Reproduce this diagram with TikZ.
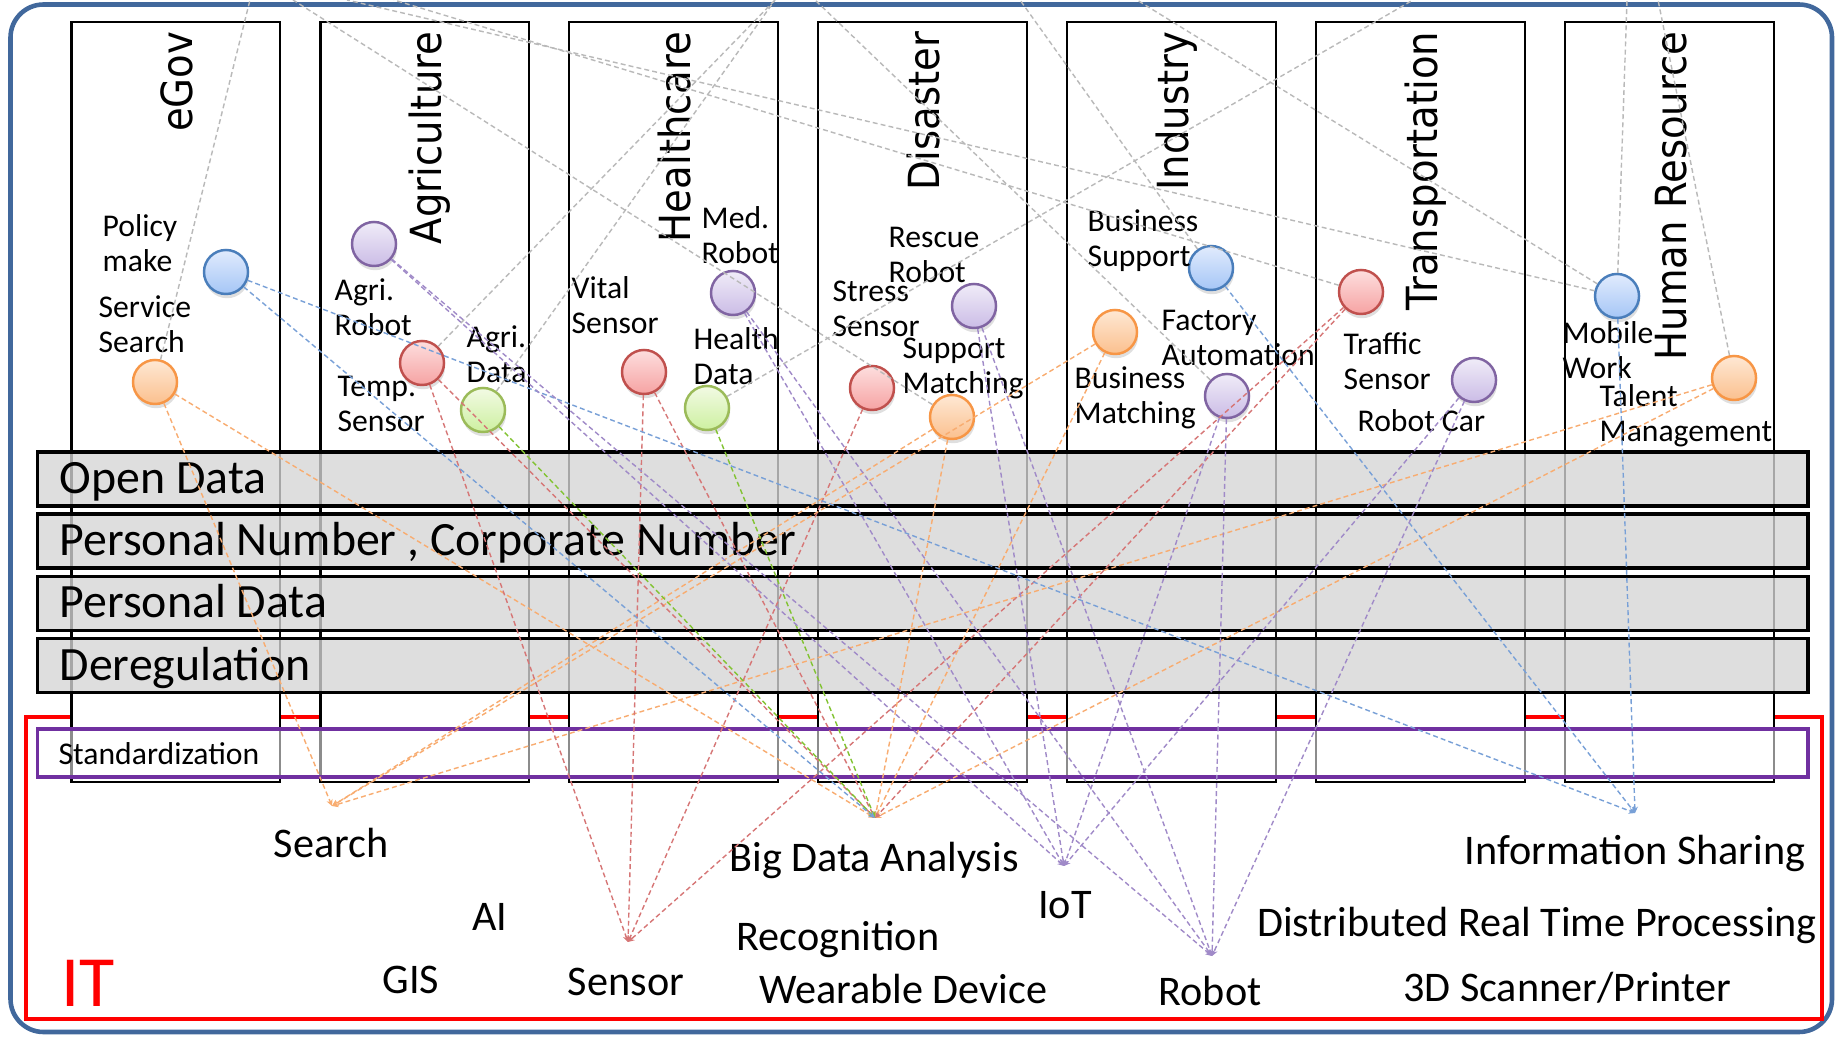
\documentclass[tikz,border=0pt]{standalone}
\usepackage{fontspec}
\setmainfont{Carlito}
\newfontfamily\titlefont[FakeStretch=0.9]{DejaVu Sans}
\usetikzlibrary{arrows.meta, shadows}
\definecolor{frameBlue}{RGB}{65,104,156}
\definecolor{barGray}{RGB}{213,213,213}
\definecolor{stdPurple}{RGB}{112,48,160}
\definecolor{lnGray}{RGB}{185,185,185}
\definecolor{lnOrange}{RGB}{248,172,112}
\definecolor{lnBlue}{RGB}{120,160,215}
\definecolor{lnRed}{RGB}{214,118,118}
\definecolor{lnGreen}{RGB}{130,195,50}
\definecolor{lnPurple}{RGB}{160,138,200}
\definecolor{blueEdge}{RGB}{74,126,187}
\definecolor{blueTop}{RGB}{225,235,253}
\definecolor{blueBot}{RGB}{165,198,246}
\definecolor{orangeEdge}{RGB}{247,150,70}
\definecolor{orangeTop}{RGB}{254,232,212}
\definecolor{orangeBot}{RGB}{251,192,142}
\definecolor{redEdge}{RGB}{192,80,77}
\definecolor{redTop}{RGB}{253,222,222}
\definecolor{redBot}{RGB}{246,163,163}
\definecolor{greenEdge}{RGB}{155,187,89}
\definecolor{greenTop}{RGB}{242,250,228}
\definecolor{greenBot}{RGB}{205,240,160}
\definecolor{purpleEdge}{RGB}{128,100,162}
\definecolor{purpleTop}{RGB}{240,236,248}
\definecolor{purpleBot}{RGB}{203,188,230}

\begin{document}
\begin{tikzpicture}[x=0.01cm, y=-0.01cm, >={Stealth[length=1.8pt, width=1.8pt]},
    dot/.style={circle, minimum size=0.44cm, inner sep=0pt, line width=0.7pt,
      drop shadow={shadow xshift=0.3pt, shadow yshift=-1.2pt, opacity=0.25}},
    dotBlue/.style={dot, draw=blueEdge, top color=blueTop, bottom color=blueBot},
    dotOrange/.style={dot, draw=orangeEdge, top color=orangeTop, bottom color=orangeBot},
    dotRed/.style={dot, draw=redEdge, top color=redTop, bottom color=redBot},
    dotGreen/.style={dot, draw=greenEdge, top color=greenTop, bottom color=greenBot},
    dotPurple/.style={dot, draw=purpleEdge, top color=purpleTop, bottom color=purpleBot},
    lbl/.style={font=\fontsize{9}{10}\selectfont, align=left, inner sep=0pt, anchor=base west},
    tech/.style={font=\fontsize{12}{14}\selectfont, inner sep=0pt, anchor=base},
    barlbl/.style={font=\fontsize{13.6}{16}\selectfont, inner sep=0pt, anchor=base west},
    field/.style={font=\titlefont\fontsize{12.2}{14}\selectfont, rotate=90, inner sep=0pt, anchor=base east},
    link/.style={line width=0.4pt, dash pattern=on 1.4pt off 0.9pt},
  ]
    \useasboundingbox (0,0) rectangle (1837,1037);

    % outer frame and IT area
    \draw[frameBlue, line width=1.3pt, rounded corners=0.33cm] (10.5,4.5) rectangle (1832,1032);
    \draw[red, line width=1.2pt] (26,717) rectangle (1822,1019);

    % fields
    \foreach \fname [count=\i from 0] in {eGov, Agriculture, Healthcare, Disaster, Industry, Transportation, Human Resource} {
        \draw[fill=white, line width=0.6pt] ({71.5+248.95*\i}, 22) rectangle ++(208.5, 760);
        \node[field] (field\i) at ({192.5+248.95*\i}, 31) {\fname};
    }

    % layers
    \foreach \bname [count=\j from 0] in {Open Data, {Personal Number , Corporate Number}, Personal Data, Deregulation} {
        \draw[line width=1pt, fill=barGray, fill opacity=0.78] (37.5, {452+62.2*\j}) rectangle ++(1770.5, 54);
        \node[barlbl] (bar\j) at (59, {493.5+62.2*\j}) {\bname};
    }
    \draw[stdPurple, line width=0.9pt, fill=white, fill opacity=0.55] (37.5,729) rectangle (1808,777);
    \node[font=\fontsize{9}{11}\selectfont, inner sep=0pt, anchor=base west] (std) at (58,764) {Standardization};
    \node[red, font=\fontsize{20.5}{24}\selectfont, inner sep=0pt, anchor=base west] (itlbl) at (61,1006) {IT};

    % services
    \node[dotBlue] (policy) at (226,272) {};
    \node[dotOrange] (servsearch) at (155,382) {};
    \node[dotPurple] (agrirobot) at (374,244) {};
    \node[dotRed] (tempsensor) at (422,363) {};
    \node[dotGreen] (agridata) at (483,410) {};
    \node[dotRed] (vitalsensor) at (644,372) {};
    \node[dotPurple] (medrobot) at (733,293) {};
    \node[dotGreen] (healthdata) at (707,408) {};
    \node[dotRed] (stresssensor) at (872,388) {};
    \node[dotPurple] (rescuerobot) at (974,306) {};
    \node[dotOrange] (supmatch) at (952,417) {};
    \node[dotBlue] (bussupport) at (1211,268) {};
    \node[dotOrange] (busmatch) at (1115,332) {};
    \node[dotPurple] (factory) at (1227,396) {};
    \node[dotRed] (trafficsensor) at (1361,292) {};
    \node[dotPurple] (robotcar) at (1474,380) {};
    \node[dotBlue] (mobilework) at (1617,296) {};
    \node[dotOrange] (talent) at (1734,378) {};

    % labels sit on the baseline of their last line
    \node[lbl] (lPolicy) at (102,272) {Policy\\make};
    \node[lbl] (lServ) at (98,353) {Service\\Search};
    \node[lbl] (lAgriRobot) at (334,336) {Agri.\\Robot};
    \node[lbl] (lTemp) at (337,432) {Temp.\\Sensor};
    \node[lbl] (lAgriData) at (466,383) {Agri.\\Data};
    \node[lbl] (lVital) at (571,334) {Vital\\Sensor};
    \node[lbl] (lMed) at (701,264) {Med.\\Robot};
    \node[lbl] (lHealth) at (693,385) {Health\\Data};
    \node[lbl] (lStress) at (832,337) {Stress\\Sensor};
    \node[lbl] (lRescue) at (888,283) {Rescue\\Robot};
    \node[lbl] (lSupMatch) at (902,394) {Support\\Matching};
    \node[lbl] (lBusSup) at (1087,267) {Business\\Support};
    \node[lbl] (lFactory) at (1161,366) {Factory\\Automation};
    \node[lbl] (lBusMatch) at (1074,424) {Business\\Matching};
    \node[lbl] (lTraffic) at (1343,390) {Traffic\\Sensor};
    \node[lbl] (lRobotCar) at (1357,432) {Robot Car};
    \node[lbl] (lMobile) at (1562,379) {Mobile\\Work};
    \node[lbl] (lTalent) at (1599,442) {Talent\\Management};

    % technologies
    \node[tech] (tSearch) at (331,857) {Search};
    \node[tech] (tAI) at (490,930) {AI};
    \node[tech] (tGIS) at (411,993) {GIS};
    \node[tech] (tSensor) at (626,995) {Sensor};
    \node[tech] (tBig) at (874,871) {Big Data Analysis};
    \node[tech] (tIoT) at (1065,918) {IoT};
    \node[tech] (tRecog) at (838,950) {Recognition};
    \node[tech] (tWear) at (903,1003) {Wearable Device};
    \node[tech] (tRobot) at (1210,1005) {Robot};
    \node[tech] (tShare) at (1635,864) {Information Sharing};
    \node[tech] (tDist) at (1537,936) {Distributed Real Time Processing};
    \node[tech] (t3D) at (1567,1001) {3D Scanner/Printer};

    \coordinate (hSearch) at (332,806);
    \coordinate (hBig) at (875,818);
    \coordinate (hSensor) at (628,942);
    \coordinate (hIoT) at (1064,866);
    \coordinate (hRobot) at (1212,956);
    \coordinate (hShare) at (1635,813);

    % links to technologies
    \foreach \src in {servsearch, supmatch, busmatch, talent} {
        \draw[link, lnOrange, ->] (\src) -- (hSearch);
        \draw[link, lnOrange, ->] (\src) -- (hBig);
    }
    \foreach \src in {tempsensor, vitalsensor, stresssensor, trafficsensor}
        \draw[link, lnRed, ->] (\src) -- (hSensor);
    \foreach \src in {tempsensor, vitalsensor, trafficsensor}
        \draw[link, lnRed, ->] (\src) -- (hBig);
    \foreach \src in {agridata, healthdata}
        \draw[link, lnGreen, ->] (\src) -- (hBig);
    \draw[link, lnBlue, ->] (policy) -- (hBig);
    \foreach \src in {policy, bussupport, mobilework}
        \draw[link, lnBlue, ->] (\src) -- (hShare);
    \foreach \src in {agrirobot, medrobot, rescuerobot, factory, robotcar} {
        \draw[link, lnPurple, ->] (\src) -- (hIoT);
        \draw[link, lnPurple, ->] (\src) -- (hRobot);
    }

    % links leaving the top
    \coordinate (upServ) at (250,0);
    \coordinate (upSup) at (293,0);
    \coordinate (upMob2) at (347,0);
    \coordinate (upTraf) at (394,0);
    \coordinate (upMid) at (775,0);
    \coordinate (upFact) at (815,0);
    \coordinate (upBus) at (1020,0);
    \coordinate (upMob1) at (1137,0);
    \coordinate (upHealth) at (1413,0);
    \coordinate (upMob3) at (1627,0);
    \coordinate (upTalent) at (1658,0);
    \draw[link, lnGray] (servsearch) -- (upServ);
    \draw[link, lnGray] (supmatch) -- (upSup);
    \draw[link, lnGray] (tempsensor) -- (upMid);
    \draw[link, lnGray] (agridata) -- (upMid);
    \draw[link, lnGray] (healthdata) -- (upHealth);
    \draw[link, lnGray] (factory) -- (upFact);
    \draw[link, lnGray] (bussupport) -- (upBus);
    \draw[link, lnGray] (trafficsensor) -- (upTraf);
    \draw[link, lnGray] (mobilework) -- (upMob1);
    \draw[link, lnGray] (mobilework) -- (upMob2);
    \draw[link, lnGray] (mobilework) -- (upMob3);
    \draw[link, lnGray] (talent) -- (upTalent);
\end{tikzpicture}
\end{document}
